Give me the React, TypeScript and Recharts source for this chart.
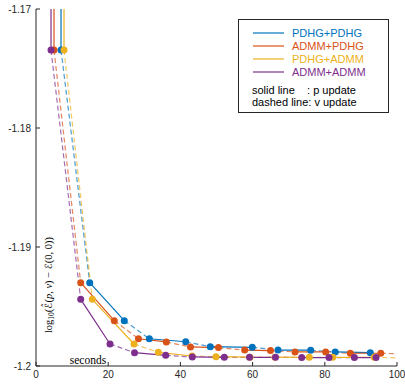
import React from 'react';
import { ComposedChart, Line, Scatter, XAxis, YAxis } from 'recharts';

const xTicks = [0, 20, 40, 60, 80, 100];
const yTicks = [-1.2, -1.19, -1.18, -1.17];
const yTickLabels = ['-1.2', '-1.19', '-1.18', '-1.17'];

const seriesNames = ['PDHG+PDHG', 'ADMM+PDHG', 'PDHG+ADMM', 'ADMM+ADMM'];
const seriesColors = ['#0072BD', '#D95319', '#EDB120', '#7E2F8E'];

const pdhgPdhgX = [6.93, 6.93, 14.88, 24.46, 31.39, 41.47, 48.28, 59.92, 67.04, 76.09, 82.89, 92.6];
const pdhgPdhgY = [-1.16, -1.17345, -1.193, -1.19619, -1.19771, -1.19796, -1.19838, -1.19843, -1.19866, -1.19867, -1.19882, -1.19888];

const admmPdhgX = [4.99, 4.99, 12.38, 21.69, 28.39, 36.1, 42.8, 50.55, 57.8, 64.96, 71.75, 80.25, 87.07, 95.5, 102];
const admmPdhgY = [-1.16, -1.17345, -1.193, -1.19619, -1.19771, -1.19798, -1.1984, -1.19845, -1.19866, -1.1987, -1.19882, -1.19882, -1.19893, -1.19893, -1.19899];

const pdhgAdmmX = [7.76, 7.76, 15.6, 27.15, 33.88, 43.21, 49.86, 59.28, 66.2, 75.7, 82.2, 93.7, 102];
const pdhgAdmmY = [-1.16, -1.17345, -1.1944, -1.19815, -1.19885, -1.19916, -1.19922, -1.19926, -1.19926, -1.19927, -1.19927, -1.19927, -1.19933];

const admmAdmmX = [4.16, 4.16, 12.38, 20.5, 27.29, 35.93, 43.3, 52.16, 59.14, 66.34, 73.6, 81.17, 88.2, 94.2];
const admmAdmmY = [-1.16, -1.17345, -1.1944, -1.19815, -1.19888, -1.1991, -1.19924, -1.19927, -1.19927, -1.19927, -1.19929, -1.19929, -1.19929, -1.19929];

const allX = [pdhgPdhgX, admmPdhgX, pdhgAdmmX, admmAdmmX];
const allY = [pdhgPdhgY, admmPdhgY, pdhgAdmmY, admmAdmmY];

type P = { x: number; y: number | null };

function toPoints(xs: number[], ys: number[]): P[] {
  return xs.map((x, i) => ({ x, y: ys[i] }));
}

function segments(pts: P[], parity: number): P[] {
  const out: P[] = [];
  for (let i = 0; i < pts.length - 1; i++) {
    if (i % 2 === parity) {
      out.push(pts[i]);
      out.push(pts[i + 1]);
      out.push({ x: pts[i + 1].x, y: null });
    }
  }
  return out;
}

function markers(pts: P[]): P[] {
  return pts.slice(1).filter((p) => p.x <= 100 && (p.y as number) >= -1.2);
}

const AX = '#262626';
const FONT = '"Liberation Sans", Arial, Helvetica, sans-serif';
const SERIF = '"Liberation Serif", "DejaVu Serif", serif';

const BottomTick = (props: any) => {
  const { x, y, payload } = props;
  return (
    <g>
      <line x1={x} y1={y} x2={x} y2={y - 4} stroke={AX} strokeWidth={1} />
      <text x={x} y={y + 12} textAnchor="middle" fontSize={10} fontFamily={FONT} fill={AX}>
        {payload.value}
      </text>
    </g>
  );
};

const LeftTick = (props: any) => {
  const { x, y, payload, index } = props;
  return (
    <g>
      <line x1={x} y1={y} x2={x + 4} y2={y} stroke={AX} strokeWidth={1} />
      <text x={x - 5} y={y + 3.5} textAnchor="end" fontSize={10} fontFamily={FONT} fill={AX}>
        {yTickLabels[yTicks.indexOf(payload.value)] ?? yTickLabels[index]}
      </text>
    </g>
  );
};

const TopTick = (props: any) => {
  const { x, y } = props;
  return <line x1={x} y1={y} x2={x} y2={y + 4} stroke={AX} strokeWidth={1} />;
};

const RightTick = (props: any) => {
  const { x, y } = props;
  return <line x1={x} y1={y} x2={x - 4} y2={y} stroke={AX} strokeWidth={1} />;
};

export default function App() {
  const series = allX.map((xs, i) => toPoints(xs, allY[i]));
  return (
    <div style={{ position: 'absolute', left: 0, top: 0, width: 405, height: 384, background: '#fff' }}>
      <ComposedChart width={405} height={384} margin={{ top: 9, right: 8, left: 0, bottom: 0 }}>
        <XAxis
          xAxisId="b"
          dataKey="x"
          type="number"
          domain={[0, 100]}
          ticks={xTicks}
          interval={0}
          allowDataOverflow
          height={18}
          tickSize={0}
          tickMargin={0}
          tickLine={false}
          axisLine={{ stroke: AX }}
          tick={<BottomTick />}
        />
        <XAxis
          xAxisId="t"
          orientation="top"
          dataKey="x"
          type="number"
          domain={[0, 100]}
          ticks={xTicks}
          interval={0}
          allowDataOverflow
          height={0}
          tickSize={0}
          tickMargin={0}
          tickLine={false}
          axisLine={{ stroke: AX }}
          tick={<TopTick />}
        />
        <YAxis
          yAxisId="l"
          type="number"
          domain={[-1.2, -1.17]}
          ticks={yTicks}
          interval={0}
          allowDataOverflow
          width={36}
          tickSize={0}
          tickMargin={0}
          tickLine={false}
          axisLine={{ stroke: AX }}
          tick={<LeftTick />}
        />
        <YAxis
          yAxisId="r"
          orientation="right"
          type="number"
          domain={[-1.2, -1.17]}
          ticks={yTicks}
          interval={0}
          allowDataOverflow
          width={0}
          tickSize={0}
          tickMargin={0}
          tickLine={false}
          axisLine={{ stroke: AX }}
          tick={<RightTick />}
        />
        {series.map((pts, i) => (
          <Line
            key={'d' + i}
            xAxisId="b"
            yAxisId="l"
            data={segments(pts, 1)}
            dataKey="y"
            type="linear"
            stroke={seriesColors[i]}
            strokeOpacity={0.7}
            strokeWidth={1.2}
            strokeDasharray="5 3"
            dot={false}
            activeDot={false}
            isAnimationActive={false}
          />
        ))}
        {series.map((pts, i) => (
          <Line
            key={'s' + i}
            xAxisId="b"
            yAxisId="l"
            data={segments(pts, 0)}
            dataKey="y"
            type="linear"
            stroke={seriesColors[i]}
            strokeWidth={1.2}
            dot={false}
            activeDot={false}
            isAnimationActive={false}
          />
        ))}
        {series.map((pts, i) => (
          <Scatter
            key={'m' + i}
            xAxisId="b"
            yAxisId="l"
            data={markers(pts)}
            dataKey="y"
            fill={seriesColors[i]}
            isAnimationActive={false}
            shape={(p: any) => <circle cx={p.cx} cy={p.cy} r={3.5} fill={seriesColors[i]} />}
          />
        ))}
      </ComposedChart>
      <svg width={405} height={384} style={{ position: 'absolute', left: 0, top: 0, pointerEvents: 'none' }}>
        <rect x={238.5} y={19.5} width={150} height={93} fill="#fff" stroke={AX} strokeWidth={1} />
        {seriesNames.map((name, i) => {
          const yy = 33 + i * 13;
          return (
            <g key={name}>
              <line x1={253} y1={yy} x2={284} y2={yy} stroke={seriesColors[i]} strokeWidth={1.2} />
              <text x={292} y={yy + 4} fontSize={11} fontFamily={FONT} fill={seriesColors[i]}>
                {name}
              </text>
            </g>
          );
        })}
        <text x={252} y={94} fontSize={11} fontFamily={FONT} fill="#000" style={{ whiteSpace: 'pre' }}>
          {'solid line    : p update'}
        </text>
        <text x={252} y={106} fontSize={11} fontFamily={FONT} fill="#000" style={{ whiteSpace: 'pre' }}>
          {'dashed line: v update'}
        </text>
        <text
          x={48}
          y={285}
          transform="rotate(-90, 48, 285)"
          textAnchor="middle"
          dominantBaseline="central"
          fontSize={10.5}
          fontFamily={SERIF}
          fill="#000"
        >
          <tspan>log</tspan>
          <tspan fontSize={7.5} dy={2.5}>10</tspan>
          <tspan dy={-2.5}>(</tspan>
          <tspan fontFamily='"DejaVu Sans", sans-serif' fontSize={10}>{'ℰ\u0302'}</tspan>
          <tspan>(</tspan>
          <tspan fontStyle="italic">p</tspan>
          <tspan>, </tspan>
          <tspan fontStyle="italic">v</tspan>
          <tspan>{') − '}</tspan>
          <tspan fontFamily='"DejaVu Sans", sans-serif' fontSize={10}>ℰ</tspan>
          <tspan>(0, 0))</tspan>
        </text>
        <text x={88} y={364} textAnchor="middle" fontSize={11.5} fontFamily={SERIF} fill="#000">
          seconds
        </text>
      </svg>
    </div>
  );
}
